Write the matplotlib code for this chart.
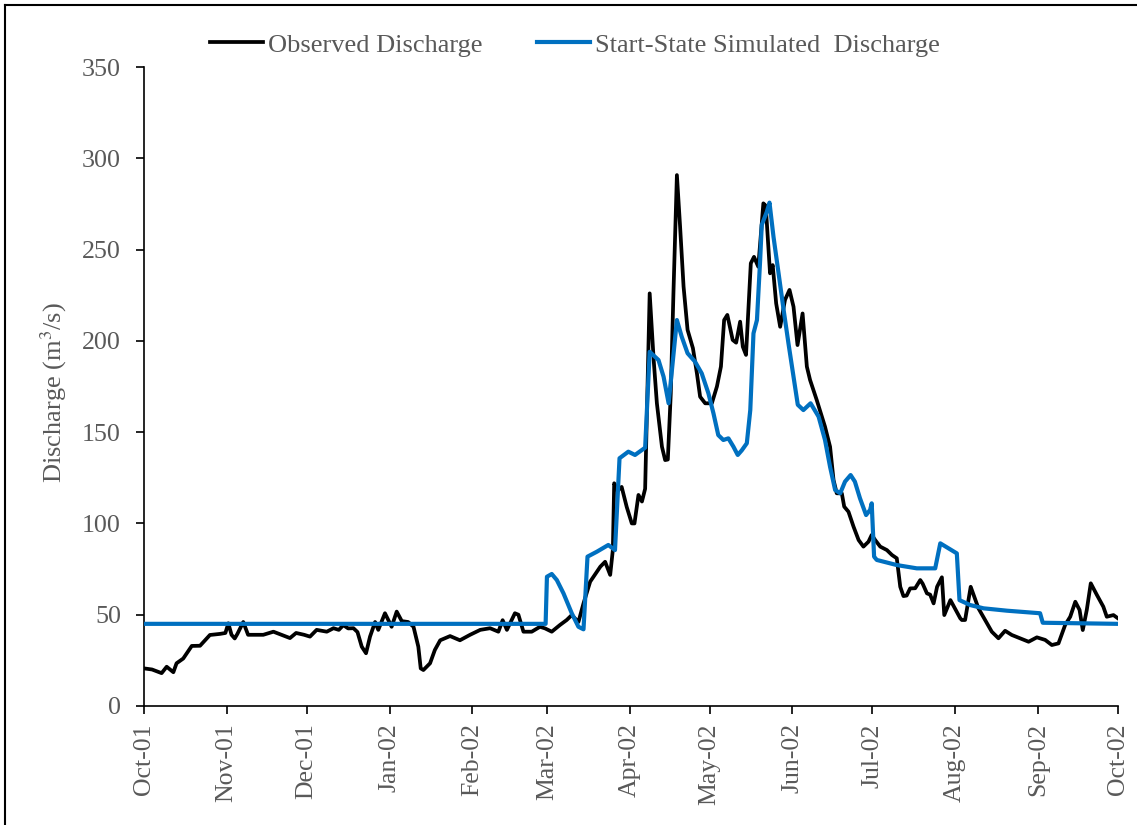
import matplotlib
matplotlib.use("Agg")
import matplotlib.pyplot as plt
import matplotlib.dates as mdates
from matplotlib.lines import Line2D
import pandas as pd

plt.rcParams['font.family'] = ['Liberation Serif', 'DejaVu Serif']
plt.rcParams['mathtext.fontset'] = 'stix'

START = pd.Timestamp("2001-10-01")
END = pd.Timestamp("2002-10-01")

# Observed discharge (days since 1 Oct 2001, m3/s)
obs_day = [0, 3, 6.6, 8.5, 11, 12.2, 14.7, 17.9, 21, 24.7, 28.5, 30.5, 31.6, 32.8, 34, 35,
           37.2, 39, 44.7, 48.5, 51.5, 54.7, 57, 60, 62.2, 64.7, 68.5, 71, 73, 74.7, 76.5,
           78.5, 80, 81.6, 83.2, 84.7, 86.6, 87.8, 90.3, 92.8, 94.7, 96.6, 99, 101, 102.8,
           103.7, 104.7, 107.2, 109, 111, 114.7, 118.4, 122.2, 126, 129.7, 132.8, 134.4,
           136, 139, 140.3, 142.2, 145.3, 148.4, 150.3, 152.8, 155.9, 158.4, 160.3, 162.8,
           164.7, 167.2, 171, 172.8, 174.7, 175.7, 176.2, 177.5, 179, 180.9, 182.8, 183.8,
           185.3, 186.6, 187.8, 189.5, 191, 192.2, 194.1, 195.3, 196.3, 197.4, 198.4, 199.7,
           200.9, 202.2, 203.7, 205.7, 207.2, 208.4, 210.3, 212.8, 214.7, 216.2, 217.4,
           218.6, 220.6, 221.9, 223.4, 224.4, 225.6, 227.4, 228.6, 230.2, 232.1, 233,
           234.6, 235.6, 236.9, 238.4, 240.2, 241.9, 243.4, 244.9, 246.8, 248.4, 249.6,
           252.1, 255.2, 257.1, 258.4, 259.6, 261.5, 262.4, 264, 265.9, 267.8, 269.6,
           271.5, 272.7, 274, 275.9, 278.4, 280.3, 282.1, 283.4, 284.6, 285.8, 287.1, 289,
           290.9, 291.8, 293.4, 294.6, 295.9, 297.2, 299, 299.9, 302.2, 305.9, 306.5, 307.7,
           309.8, 312.7, 315.2, 317.7, 320.2, 322.7, 325.2, 328.3, 331.5, 334.6, 337.7,
           340.2, 342.7, 345.2, 347.1, 349, 350.6, 351.8, 353.3, 354.8, 357.1, 359.5,
           360.8, 363.3, 365]
obs_q = [20.6, 20, 18, 21.5, 18.5, 23.4, 26, 32.9, 33, 38.9, 39.5, 40, 45.3, 39, 37, 39.5,
         46, 39, 39, 40.7, 39, 37.2, 40, 39, 38, 41.7, 40.7, 42.6, 41.7, 44.3, 42.5,
         42.6, 40.5, 32.5, 28.9, 38, 46, 41.7, 50.8, 43.4, 51.7, 46.5, 46, 43.4, 32.5,
         20.6, 19.7, 23.4, 30.7, 36, 38.3, 36, 39, 41.7, 42.6, 40.7, 47,
         41.7, 50.8, 50, 40.7, 40.7, 43.4, 42.5, 40.7, 44.4, 47.1, 49.8, 46,
         56.2, 68.1, 76.3, 79, 71.8, 85.5, 122, 118, 120, 109, 100, 100,
         115.6, 112, 119, 226, 189.5, 165.8, 142, 134.7, 135, 171, 226, 290.8,
         262.5, 229.7, 206, 196, 182.2, 169.4, 165.8, 165.8, 175, 185.9, 211.4,
         214.2, 200.5, 199, 210.5, 196.8, 192.3, 242.5, 246, 240.6, 275.3, 274,
         237, 241.5, 220.5, 207.7, 222.4, 227.9, 218.7, 197.7, 215, 185.9, 178.6,
         167.6, 153, 142, 123.8, 116.5, 116.5, 109.2, 106.4, 98.2, 90.9, 87.3,
         90, 93.7, 90.9, 87.3, 85.4, 82.7, 80.9, 65.3, 60.2, 60.5, 64.4, 64.5,
         69, 67, 61.7, 61, 56.2, 65.3, 70.5, 49.8, 58, 48, 47.1, 47.1,
         65.3, 53.5, 47.1, 40.7, 37.1, 41.2, 38.9, 37.1, 35.2, 37.6, 36.2,
         33.4, 34.3, 44.4, 48.9, 57.1, 52.6, 41.6, 52.6, 67.2, 60.8, 54.4,
         48.9, 49.8, 48]

# Start-state simulated discharge (days since 1 Oct 2001, m3/s)
sim_day = [0, 150.5, 151, 152.8, 154.7, 157.2, 160.3, 162.8, 164.7, 166.2, 169.7, 174,
           176.5, 178.2, 181.5, 184, 187.8, 189.5, 192.8, 194.7, 196.6, 199.7, 201.5,
           203.7, 206.5, 209, 211.5, 213.4, 215.2, 217.1, 219, 220.9, 222.5, 224, 225.9,
           227.2, 228.4, 229.7, 230.9, 231.5, 233.4, 234.4, 235.9, 237.8, 239.7, 241.5,
           243.4, 245, 247.1, 249.8, 252.8, 255.2, 257.1, 259, 260.9, 262.7, 264.8, 266.4,
           268.3, 270.6, 272.1, 272.7, 273.6, 274.6, 282.1, 289.6, 296.5, 298.4, 304.6,
           305.6, 309.6, 314.6, 323.4, 335.8, 336.8, 365]
sim_q = [45, 45, 70.8, 72.3, 69, 61.7, 50.8, 43.4, 42, 81.8, 84.5, 88.2,
         85.4, 135.7, 139.3, 137.5, 141.5, 194, 189.5, 180.4, 165.8, 211.4, 202.3,
         193.2, 188.6, 182.2, 171.3, 160.3, 148.4, 145.7, 146.6, 142, 137.5, 140, 143.9,
         162.1, 204.1, 211.4, 244.3, 263.5, 270.7, 275.7, 257, 237, 216.9, 198.7,
         180.4, 165, 162.1, 165.8, 158.5, 145.7, 131, 118.3, 116.5, 122.9, 126.5, 122.9,
         113.8, 104.6, 107.4, 111, 81.8, 80, 77.2, 75.4, 75.4, 89.1, 83.6,
         58, 55.3, 53.5, 52.2, 50.8, 45.6, 45]

y_ticks = [0, 50, 100, 150, 200, 250, 300, 350]

obs_t = START + pd.to_timedelta(obs_day, unit="D")
sim_t = START + pd.to_timedelta(sim_day, unit="D")

TXT = "#595959"
W, H = 1137, 825
fig = plt.figure(figsize=(W / 100, H / 100), dpi=100)
ax = fig.add_axes([144 / W, 1 - 706 / H, (1118 - 144) / W, (706 - 67) / H])

ax.plot(obs_t, obs_q, color="black", lw=2.7, label="Observed Discharge", zorder=2,
        solid_joinstyle="round")
ax.plot(sim_t, sim_q, color="#0070C0", lw=3.0, label="Start-State Simulated  Discharge",
        zorder=3, solid_joinstyle="round")

ax.set_xlim(START, END)
ax.set_ylim(0, 350)
ax.set_yticks(y_ticks)
ax.xaxis.set_major_locator(mdates.MonthLocator())
ax.xaxis.set_major_formatter(mdates.DateFormatter("%b-%y"))

for s in ("top", "right"):
    ax.spines[s].set_visible(False)
for s in ("left", "bottom"):
    ax.spines[s].set_linewidth(1.2)
    ax.spines[s].set_color("black")

ax.tick_params(axis="y", direction="out", length=5.5, width=1.2, pad=11,
               labelsize=18.7, labelcolor=TXT)
ax.tick_params(axis="x", direction="out", length=5.5, width=1.2, pad=7,
               labelsize=18.5, labelcolor=TXT, labelrotation=90)

ax.set_ylabel(r"Discharge (m$^{3}$/s)", fontsize=19, color=TXT)
ax.yaxis.set_label_coords(69 / W, 1 - 393 / H, transform=fig.transFigure)

leg = ax.legend(loc="center left", bbox_to_anchor=(210 / W, 1 - 45 / H),
                bbox_transform=fig.transFigure, ncol=2, frameon=False,
                fontsize=19, handlelength=2.0, handletextpad=0.18, columnspacing=2.1,
                borderpad=0, borderaxespad=0, labelcolor=TXT)

# Outer frame lines around the figure
fig.add_artist(Line2D([5 / W, 5 / W], [0, 1 - 5 / H], transform=fig.transFigure,
                      color="black", lw=1.5))
fig.add_artist(Line2D([5 / W, 1], [1 - 5 / H, 1 - 5 / H], transform=fig.transFigure,
                      color="black", lw=1.5))

fig.savefig("out.png", dpi=100)
